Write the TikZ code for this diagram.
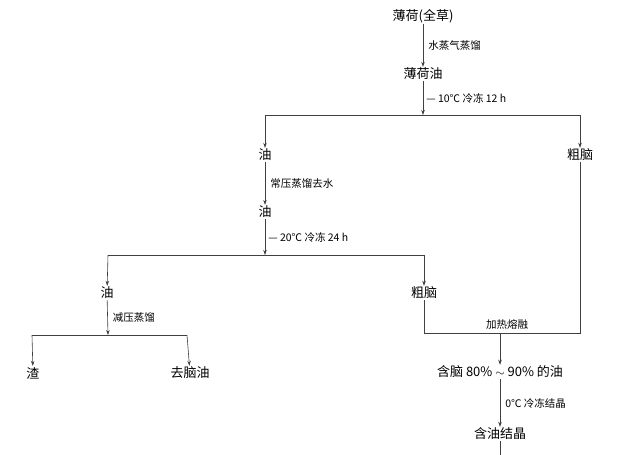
\documentclass[tikz,border=0pt]{standalone}
\usepackage{fontspec}
\newfontfamily\cjk{Noto Sans CJK SC}
\usetikzlibrary{arrows.meta}
\begin{document}
\begin{tikzpicture}[x=1pt,y=-1pt,
  box/.style={font=\cjk\fontsize{13}{15}\selectfont,inner sep=1pt},
  lbl/.style={font=\cjk\fontsize{10.5}{12}\selectfont,anchor=west,inner sep=1pt},
  line/.style={draw=black!75,line width=0.6pt},
  arr/.style={line,-{Stealth[length=5pt,width=3.5pt]}}]
\useasboundingbox[fill=white] (0,0) rectangle (640,455);
\node[box] (a) at (423,16) {薄荷(全草)};
\node[box] (b) at (423,74) {薄荷油};
\node[box] (c) at (265,155) {油};
\node[box] (d) at (580,155) {粗脑};
\node[box] (e) at (265,212) {油};
\node[box] (f) at (107,293) {油};
\node[box] (g) at (424,293) {粗脑};
\node[box] (h) at (33,373) {渣};
\node[box] (i) at (190,373) {去脑油};
\node[box] (j) at (500,372) {含脑 80\% $\sim$ 90\% 的油};
\node[box] (k) at (500,434) {含油结晶};
\coordinate (s1) at (423,115);
\coordinate (s2) at (108,255);
\coordinate (s3) at (108,335);
\coordinate (s4) at (500,333);
\coordinate (kend) at (500,455);
\draw[arr] (a) -- (b) node[lbl,midway,xshift=4pt] {水蒸气蒸馏};
\draw[arr] (b) -- (s1) node[lbl,midway,xshift=2pt] {— 10℃ 冷冻 12 h};
\draw[line] (265,115) -- (580,115);
\draw[arr] (265,115) -- (c);
\draw[arr] (580,115) -- (d);
\draw[arr] (c) -- (e) node[lbl,midway,xshift=4pt] {常压蒸馏去水};
\draw[arr] (e) -- (265,255) node[lbl,midway,xshift=2pt] {— 20℃ 冷冻 24 h};
\draw[line] (s2) -- (424,255);
\draw[arr] (s2) -- (f);
\draw[arr] (424,255) -- (g);
\draw[arr] (f) -- (s3) node[lbl,midway,xshift=4pt] {减压蒸馏};
\draw[line] (32,335) -- (187,335);
\draw[arr] (32,335) -- (h);
\draw[arr] (187,335) -- (i);
\draw[line] (g) -- (424,333) -- (580,333) -- (d);
\node[lbl,anchor=south] at (507,331) {加热熔融};
\draw[arr] (s4) -- (j);
\draw[arr] (j) -- (k) node[lbl,midway,xshift=4pt] {0℃ 冷冻结晶};
\draw[line] (k) -- (kend);
\end{tikzpicture}
\end{document}
